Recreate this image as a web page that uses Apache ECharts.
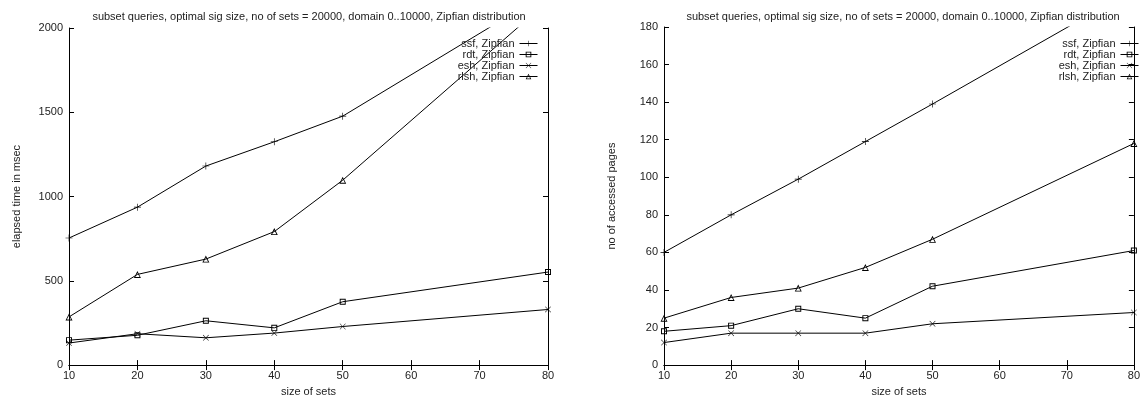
<!DOCTYPE html>
<html><head><meta charset="utf-8">
<script src="https://cdn.jsdelivr.net/npm/echarts@6/dist/echarts.min.js"></script>
<style>html,body{margin:0;padding:0;background:#fff}#c{width:1143px;height:402px}</style>
</head><body><div id="c"></div>
<script>
// ---- data ----
const setSizes = [10, 20, 30, 40, 50, 80];
const seriesNames = ['ssf, Zipfian', 'rdt, Zipfian', 'esh, Zipfian', 'rlsh, Zipfian'];
// left panel: elapsed time in msec
const timeSsf  = [754, 937, 1181, 1325, 1477, 2213];
const timeRdt  = [148, 177, 263, 221, 376, 552];
const timeEsh  = [131, 186, 162, 190, 229, 330];
const timeRlsh = [286, 538, 629, 792, 1097, 2159];
// right panel: no of accessed pages
const pagesSsf  = [60, 80, 99, 119, 139, 200];
const pagesRdt  = [18, 21, 30, 25, 42, 61];
const pagesEsh  = [12, 17, 17, 17, 22, 28];
const pagesRlsh = [25, 36, 41, 52, 67, 118];
const titleText = 'subset queries, optimal sig size, no of sets = 20000, domain 0..10000, Zipfian distribution';
const xName = 'size of sets';
const yNameLeft = 'elapsed time in msec';
const yNameRight = 'no of accessed pages';

// ---- style ----
const FONT = "'Liberation Sans', Arial, sans-serif";
const TXT = '#222';
const PLUS = 'path://M4.55,0H5.45V4.55H10V5.45H5.45V10H4.55V5.45H0V4.55H4.55Z';
const CROSS = 'path://M0,0.6L0.6,0L5,4.4L9.4,0L10,0.6L5.6,5L10,9.4L9.4,10L5,5.6L0.6,10L0,9.4L4.4,5Z';
const HSQUARE = 'path://M0,0H10V10H0Z M1.6,1.6V8.4H8.4V1.6Z';
const HTRI = 'path://M5,0L10,9L0,9Z M5,2.6L1.9,7.9L8.1,7.9Z';
const symbols = [PLUS, HSQUARE, CROSS, HTRI];
const symSizes = [7, 6, 6, 7];

const pair = vals => setSizes.map((x, i) => [x, vals[i]]);
const leftData = [timeSsf, timeRdt, timeEsh, timeRlsh];
const rightData = [pagesSsf, pagesRdt, pagesEsh, pagesRlsh];

function mkSeries(dataSets, idx) {
  return dataSets.map((d, i) => ({
    type: 'line', name: seriesNames[i], xAxisIndex: idx * 2, yAxisIndex: idx * 2,
    data: pair(d), symbol: symbols[i], symbolSize: symSizes[i], clip: true,
    itemStyle: { color: '#000', borderWidth: 0 },
    lineStyle: { color: '#000', width: 1 }, animation: false
  }));
}

const axisLine = { show: true, lineStyle: { color: '#000', width: 1 } };
const tick = { show: true, inside: true, length: 5, lineStyle: { color: '#000' } };
const labelStyle = { color: TXT, fontSize: 11, fontFamily: FONT };

function xAxes(grid) {
  return [
    { gridIndex: grid, type: 'value', min: 10, max: 80, interval: 10, position: 'bottom',
      axisLine, axisTick: tick, splitLine: { show: false },
      axisLabel: { ...labelStyle, margin: 5, formatter: v => String(v) },
      name: xName, nameLocation: 'middle', nameGap: 16, nameTextStyle: labelStyle },
    { gridIndex: grid, type: 'value', min: 10, max: 80, interval: 10, position: 'top',
      axisLine, axisTick: tick, splitLine: { show: false }, axisLabel: { show: false } }
  ];
}
function yAxes(grid, max, interval, name) {
  return [
    { gridIndex: grid, type: 'value', min: 0, max, interval, position: 'left',
      axisLine, axisTick: tick, splitLine: { show: false },
      axisLabel: { ...labelStyle, margin: 6, formatter: v => String(v) },
      name, nameLocation: 'middle', nameGap: 47, nameTextStyle: labelStyle },
    { gridIndex: grid, type: 'value', min: 0, max, interval, position: 'right',
      axisLine, axisTick: tick, splitLine: { show: false }, axisLabel: { show: false } }
  ];
}
function legend(right) {
  return { orient: 'vertical', right, top: 38, padding: 0, align: 'right',
    itemWidth: 18, itemHeight: 7, itemGap: 0,
    lineStyle: { width: 1 },
    textStyle: { ...labelStyle, lineHeight: 10.5 },
    data: seriesNames, selectedMode: false };
}

const chart = echarts.init(document.getElementById('c'), null, { renderer: 'canvas' });
chart.setOption({
  backgroundColor: '#fff',
  animation: false,
  textStyle: { fontFamily: FONT },
  title: [
    { text: titleText, left: 309, top: 11, textAlign: 'center', padding: 0,
      textStyle: { color: TXT, fontSize: 11, fontWeight: 'normal', fontFamily: FONT } },
    { text: titleText, left: 903, top: 11, textAlign: 'center', padding: 0,
      textStyle: { color: TXT, fontSize: 11, fontWeight: 'normal', fontFamily: FONT } }
  ],
  legend: [legend(605), legend(4)],
  grid: [
    { left: 69, right: 595, top: 28, bottom: 27, containLabel: false },
    { left: 664, right: 1, top: 27, bottom: 27, containLabel: false }
  ],
  xAxis: [...xAxes(0), ...xAxes(1)],
  yAxis: [...yAxes(0, 2000, 500, yNameLeft), ...yAxes(1, 180, 20, yNameRight)],
  series: [...mkSeries(leftData, 0), ...mkSeries(rightData, 1)]
});
</script></body></html>
